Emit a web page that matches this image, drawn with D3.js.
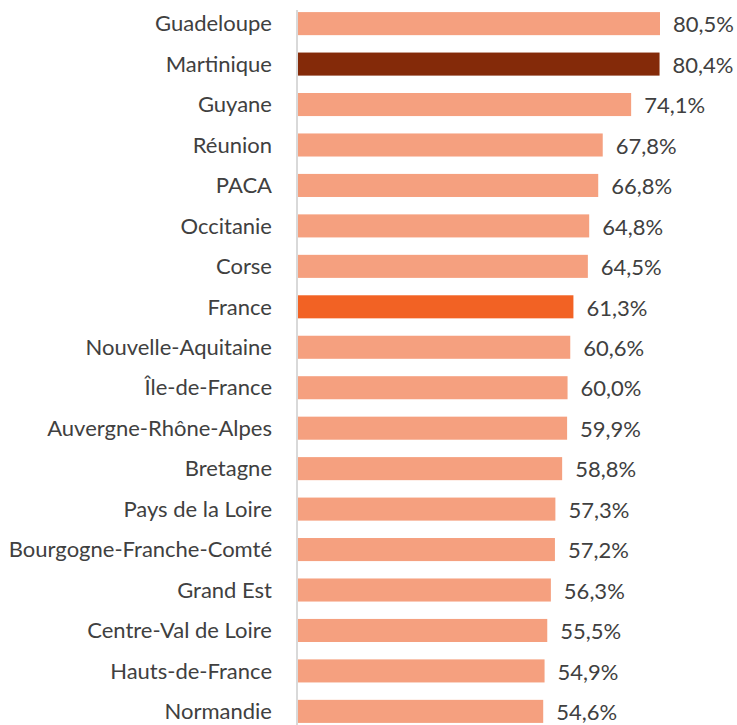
<!DOCTYPE html>
<head>
  <meta charset="utf-8">
  <script src="https://d3js.org/d3.v7.min.js"></script>
  <style>
  body { margin: 0; background: white; }
  #chart text {
    fill: #404040;
    font: 22px Lato, sans-serif;
  }
  </style>
</head>

<body>
  <svg id="chart"></svg>
  <script>

    var regions = ["Guadeloupe", "Martinique", "Guyane", "Réunion", "PACA", "Occitanie", "Corse",
      "France", "Nouvelle-Aquitaine", "Île-de-France", "Auvergne-Rhône-Alpes", "Bretagne",
      "Pays de la Loire", "Bourgogne-Franche-Comté", "Grand Est", "Centre-Val de Loire",
      "Hauts-de-France", "Normandie"];
    var values = [80.5, 80.4, 74.1, 67.8, 66.8, 64.8, 64.5, 61.3, 60.6, 60.0, 59.9, 58.8,
      57.3, 57.2, 56.3, 55.5, 54.9, 54.6];
    var highlight = { "Martinique": "#842a09", "France": "#f26224" };

    var width = 737,
        height = 725,
        left = 297;

    var svg = d3.select('#chart')
        .attr('width', width)
        .attr('height', height);

    var x = d3.scaleLinear()
        .domain([0, 80.5])
        .range([left, 660]);

    var y = d3.scaleBand()
        .domain(regions)
        .range([4, 731])
        .paddingInner(0.43)
        .paddingOuter(0.2);

    var fmt = function(d) { return d.toFixed(1).replace('.', ',') + '%'; };

    svg.append('line')
        .attr('x1', left).attr('x2', left)
        .attr('y1', 10).attr('y2', height)
        .attr('stroke', '#d9d9d9')
        .attr('stroke-width', 2);

    var row = svg.selectAll('g.row')
        .data(regions)
      .enter().append('g')
        .attr('class', 'row')
        .attr('transform', function(d) { return 'translate(0,' + y(d) + ')'; });

    row.append('rect')
        .attr('x', left + 1)
        .attr('width', function(d, i) { return x(values[i]) - left - 1; })
        .attr('height', y.bandwidth())
        .style('fill', function(d) { return highlight[d] || '#f5a07f'; });

    row.append('text')
        .attr('x', left - 25)
        .attr('y', y.bandwidth() / 2)
        .attr('dy', '.35em')
        .attr('text-anchor', 'end')
        .text(function(d) { return d; });

    row.append('text')
        .attr('x', function(d, i) { return x(values[i]) + 13; })
        .attr('y', y.bandwidth() / 2 + 1)
        .attr('dy', '.35em')
        .text(function(d, i) { return fmt(values[i]); });

  </script>
</body>
